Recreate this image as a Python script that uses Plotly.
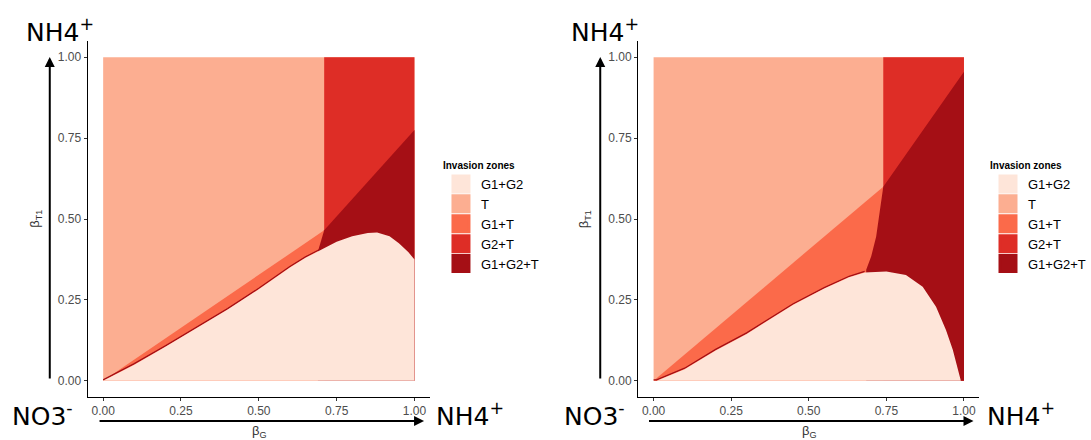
import plotly.graph_objects as go

# ---------------- data ----------------
ZONES = ["G1+G2", "T", "G1+T", "G2+T", "G1+G2+T"]
ZONE_COLORS = ["#FEE5D9", "#FCAE91", "#FB6A4A", "#DE2D26", "#A50F15"]
TICKS = [0.0, 0.25, 0.5, 0.75, 1.0]
TICK_LABELS = ["0.00", "0.25", "0.50", "0.75", "1.00"]

# Left panel: upper boundary of the G1+G2 zone
A_g1g2_x = [0.0, 0.1, 0.2, 0.3, 0.4, 0.5, 0.6, 0.65, 0.7, 0.75, 0.8, 0.85, 0.88, 0.92, 0.95, 0.98, 1.0]
A_g1g2_y = [0.0, 0.05, 0.105, 0.163, 0.22, 0.283, 0.35, 0.38, 0.405, 0.43, 0.447, 0.457, 0.458, 0.447, 0.425, 0.398, 0.375]
# Left panel: lower boundary of the T zone
A_T_x = [0.0, 0.71]
A_T_y = [0.0, 0.465]
# Left panel: lower boundary of the G2+T zone
A_G2T_x = [0.71, 1.0]
A_G2T_y = [0.465, 0.775]
# Left panel: left edge of the G1+G2+T zone
A_dark_x = [0.69, 0.70, 0.71]
A_dark_y = [0.40, 0.43, 0.465]

# Right panel
B_g1g2_x = [0.0, 0.01, 0.1, 0.2, 0.3, 0.363, 0.45, 0.55, 0.63, 0.68, 0.75, 0.813, 0.867, 0.91, 0.942, 0.964, 0.985, 0.99]
B_g1g2_y = [0.0, 0.0, 0.036, 0.094, 0.145, 0.183, 0.235, 0.285, 0.32, 0.335, 0.338, 0.327, 0.291, 0.229, 0.157, 0.096, 0.024, 0.0]
B_T_x = [0.0, 0.74]
B_T_y = [0.0, 0.60]
B_G2T_x = [0.74, 1.0]
B_G2T_y = [0.60, 0.955]
B_dark_x = [0.685, 0.701, 0.717, 0.728, 0.74]
B_dark_y = [0.343, 0.384, 0.445, 0.518, 0.60]

PANELS = [
    dict(g1g2_x=A_g1g2_x, g1g2_y=A_g1g2_y, T_x=A_T_x, T_y=A_T_y,
         G2T_x=A_G2T_x, G2T_y=A_G2T_y, dark_x=A_dark_x, dark_y=A_dark_y),
    dict(g1g2_x=B_g1g2_x, g1g2_y=B_g1g2_y, T_x=B_T_x, T_y=B_T_y,
         G2T_x=B_G2T_x, G2T_y=B_G2T_y, dark_x=B_dark_x, dark_y=B_dark_y),
]

W, H = 1091, 440
fig = go.Figure()

C = dict(zip(ZONES, ZONE_COLORS))


def area(x, y, color, xa, ya, fill="tozeroy"):
    fig.add_trace(go.Scatter(x=x, y=y, mode="lines", fill=fill, fillcolor=color,
                             line=dict(width=0, color=color), showlegend=False,
                             hoverinfo="skip", xaxis=xa, yaxis=ya))


for i, p in enumerate(PANELS):
    xa = "x" if i == 0 else "x2"
    ya = "y" if i == 0 else "y2"
    xs = p["G2T_x"][0]
    # T zone (whole square, later covered)
    area([0.0, 1.0], [1.0, 1.0], C["T"], xa, ya)
    # G2+T zone
    area([xs, 1.0], [1.0, 1.0], C["G2+T"], xa, ya)
    # G1+T zone: beneath lower boundary of T
    area(p["T_x"], p["T_y"], C["G1+T"], xa, ya)
    # G1+G2+T zone
    dx = p["dark_x"] + p["G2T_x"][1:] + [1.0, p["dark_x"][0]]
    dy = p["dark_y"] + p["G2T_y"][1:] + [0.0, 0.0]
    area(dx, dy, C["G1+G2+T"], xa, ya, fill="toself")
    # thin G1+G2+T strip along the G1+G2 boundary
    sx = [x for x in p["g1g2_x"] if x <= p["dark_x"][-1]]
    sy = p["g1g2_y"][:len(sx)]
    fig.add_trace(go.Scatter(x=sx, y=[v + 0.003 for v in sy], mode="lines",
                             line=dict(width=1.3, color=C["G1+G2+T"]),
                             showlegend=False, hoverinfo="skip", xaxis=xa, yaxis=ya))
    # G1+G2 zone
    area(p["g1g2_x"], p["g1g2_y"], C["G1+G2"], xa, ya)

# legend entries
for i, leg in enumerate(["legend", "legend2"]):
    for z in ZONES:
        fig.add_trace(go.Scatter(x=[None], y=[None], mode="markers", name=z,
                                 marker=dict(symbol="square", size=16, color=C[z],
                                             line=dict(width=3, color=C[z])),
                                 legend=leg, xaxis="x" if i == 0 else "x2",
                                 yaxis="y" if i == 0 else "y2"))

ydom = [(H - 397) / H, (H - 41) / H]
axis_common = dict(range=[-0.05, 1.05], tickvals=TICKS, ticktext=TICK_LABELS,
                   showgrid=False, zeroline=False, showline=True, linecolor="black",
                   linewidth=1, ticks="outside", ticklen=3, tickcolor="#333333",
                   tickfont=dict(family="Liberation Sans", size=12, color="#4D4D4D"),
                   fixedrange=True)

leg_common = dict(xanchor="left", yanchor="top",
                  title=dict(text="<b>Invasion zones</b>",
                             font=dict(family="Liberation Sans", size=10, color="black")),
                  font=dict(family="Liberation Sans", size=13, color="black"),
                  tracegroupgap=0, bgcolor="rgba(0,0,0,0)")

fig.update_layout(
    width=W, height=H, margin=dict(l=0, r=0, t=0, b=0),
    plot_bgcolor="white", paper_bgcolor="white",
    xaxis=dict(domain=[88 / W, 432 / W], anchor="y", **axis_common),
    yaxis=dict(domain=ydom, anchor="x", **axis_common),
    xaxis2=dict(domain=[641 / W, 984 / W], anchor="y2", **axis_common),
    yaxis2=dict(domain=ydom, anchor="x2", **axis_common),
    legend=dict(x=443 / W, y=(H - 156) / H, **leg_common),
    legend2=dict(x=993 / W, y=(H - 156) / H, **leg_common),
)

ann = []
big = dict(family="DejaVu Sans", size=25, color="black")
for off in [0, 552]:
    # ion labels
    ann.append(dict(text="NH4<sup>+</sup>", x=(24 + off - (4 if off else 0)) / W, y=(H - 12) / H,
                    xref="paper", yref="paper", xanchor="left", yanchor="top",
                    showarrow=False, font=big))
    ann.append(dict(text="NO3<sup>-</sup>", x=(10 + off + (3 if off else 0)) / W, y=(H - 396) / H,
                    xref="paper", yref="paper", xanchor="left", yanchor="top",
                    showarrow=False, font=big))
    ann.append(dict(text="NH4<sup>+</sup>", x=(436 + off + (2 if off else 0)) / W, y=(H - 396) / H,
                    xref="paper", yref="paper", xanchor="left", yanchor="top",
                    showarrow=False, font=big))
    # arrows
    ann.append(dict(text="", x=(50 + off + (1 if off else 0)) / W, y=(H - 57) / H,
                    xref="paper", yref="paper", ax=0, ay=323, showarrow=True,
                    arrowhead=2, arrowsize=1, arrowwidth=2, arrowcolor="black"))
    ann.append(dict(text="", x=(426 + off) / W, y=(H - 421) / H,
                    xref="paper", yref="paper", ax=-326, ay=0, showarrow=True,
                    arrowhead=2, arrowsize=1, arrowwidth=2, arrowcolor="black"))
    # axis titles
    ann.append(dict(text="β<sub>G</sub>", x=(261 + off) / W, y=(H - 431) / H,
                    xref="paper", yref="paper", xanchor="center", yanchor="middle",
                    showarrow=False,
                    font=dict(family="Liberation Sans", size=13, color="#333333")))
    ann.append(dict(text="β<sub>T1</sub>", x=(36 + off) / W, y=(H - 219) / H,
                    xref="paper", yref="paper", xanchor="center", yanchor="middle",
                    textangle=-90, showarrow=False,
                    font=dict(family="Liberation Sans", size=13, color="#333333")))

fig.update_layout(annotations=ann)
fig.write_html("out.html", config={"displayModeBar": False},
               post_script="document.body.style.margin='0px';")
